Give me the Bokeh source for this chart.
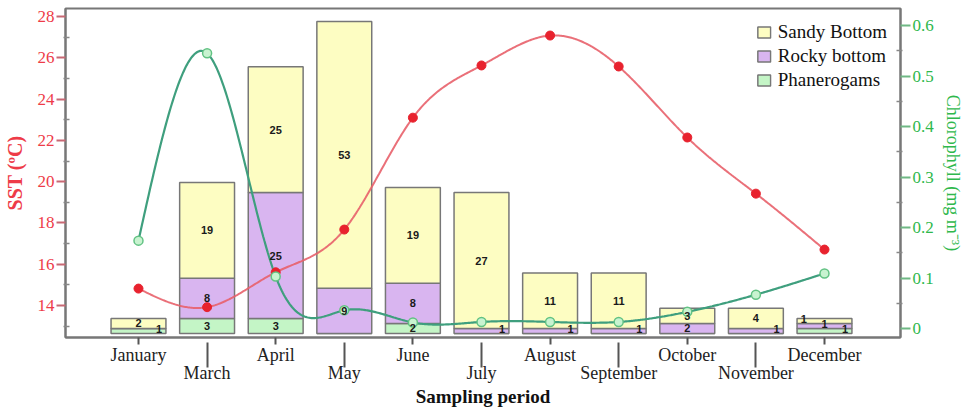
import numpy as np
from bokeh.plotting import figure
from bokeh.models import Range1d, LinearAxis, FixedTicker, ColumnDataSource, Legend, LegendItem
from bokeh.core.properties import value
from bokeh.embed import file_html
from bokeh.resources import INLINE

# ---------------- data ----------------
months = ["January", "March", "April", "May", "June", "July", "August",
          "September", "October", "November", "December"]
sandy = [2, 19, 25, 53, 19, 27, 11, 11, 3, 4, 1]
rocky = [0, 8, 25, 9, 8, 1, 1, 1, 2, 1, 1]
phan = [1, 3, 3, 0, 2, 0, 0, 0, 0, 0, 1]
sst = [14.82, 13.92, 15.61, 17.68, 23.10, 25.63, 27.08, 25.58, 22.14, 19.42, 16.71]
chl = [0.174, 0.545, 0.103, 0.036, 0.012, 0.013, 0.013, 0.013, 0.033, 0.067, 0.109]
sst_ticks = [14, 16, 18, 20, 22, 24, 26, 28]
sst_minor = [13, 15, 17, 19, 21, 23, 25, 27]
chl_ticks = [0, 0.1, 0.2, 0.3, 0.4, 0.5, 0.6]
chl_minor = [0.05, 0.15, 0.25, 0.35, 0.45, 0.55]

SERIF = "Liberation Serif"
RED_TXT = "#ee3b48"
GREEN_TXT = "#2fb84c"

xs = list(range(len(months)))


def natural_spline(x, y, n=600):
    x = np.asarray(x, float)
    y = np.asarray(y, float)
    k = len(x)
    h = np.diff(x)
    A = np.zeros((k, k))
    b = np.zeros(k)
    A[0, 0] = A[-1, -1] = 1
    for i in range(1, k - 1):
        A[i, i - 1] = h[i - 1]
        A[i, i] = 2 * (h[i - 1] + h[i])
        A[i, i + 1] = h[i]
        b[i] = 3 * ((y[i + 1] - y[i]) / h[i] - (y[i] - y[i - 1]) / h[i - 1])
    c = np.linalg.solve(A, b)
    bb = (y[1:] - y[:-1]) / h - h * (2 * c[:-1] + c[1:]) / 3
    d = (c[1:] - c[:-1]) / (3 * h)
    xx = np.linspace(x[0], x[-1], n)
    idx = np.clip(np.searchsorted(x, xx, side="right") - 1, 0, k - 2)
    dx = xx - x[idx]
    yy = y[idx] + bb[idx] * dx + c[idx] * dx ** 2 + d[idx] * dx ** 3
    return xx, yy


p = figure(frame_width=835, frame_height=329,
           x_range=Range1d(-1.064, 11.108), y_range=Range1d(12.45, 28.39),
           x_axis_location=None, y_axis_location="left",
           output_backend="svg", toolbar_location=None,
           min_border_left=60, min_border_top=8, min_border_right=5, min_border_bottom=0,
           background_fill_color="white", border_fill_color="white")
p.extra_y_ranges = {"counts": Range1d(-0.795, 64.59), "chl": Range1d(-0.0178, 0.6337)}
p.xgrid.visible = False
p.ygrid.visible = False
p.outline_line_color = "#777777"
p.outline_line_width = 2

# left axis
ya = p.yaxis[0]
ya.ticker = FixedTicker(ticks=sst_ticks, minor_ticks=sst_minor)
ya.axis_label = "SST (ºC)"
ya.axis_label_text_font = SERIF
ya.axis_label_text_font_style = "bold"
ya.axis_label_text_font_size = "20px"
ya.axis_label_text_color = RED_TXT
ya.axis_label_standoff = 9
ya.major_label_text_font = SERIF
ya.major_label_text_font_size = "17px"
ya.major_label_text_color = RED_TXT
ya.major_label_standoff = 2
ya.axis_line_color = "#777777"
ya.axis_line_width = 2
ya.major_tick_out = 9
ya.major_tick_in = 0
ya.major_tick_line_color = "#c86874"
ya.major_tick_line_width = 2
ya.minor_tick_out = 2
ya.minor_tick_in = 4
ya.minor_tick_line_color = "#888888"
ya.minor_tick_line_width = 1.5

# right axis
ra = LinearAxis(y_range_name="chl",
                ticker=FixedTicker(ticks=chl_ticks, minor_ticks=chl_minor),
                major_label_overrides={t: f"{t:g}" for t in chl_ticks},
                axis_label="Chlorophyll (mg m⁻³)",
                axis_label_text_font=SERIF, axis_label_text_font_size="18px",
                axis_label_text_font_style="normal",
                axis_label_text_color=GREEN_TXT, axis_label_standoff=6,
                major_label_text_font=SERIF, major_label_text_font_size="17px",
                major_label_text_color=GREEN_TXT, major_label_standoff=2,
                axis_line_color="#777777", axis_line_width=2,
                major_tick_out=10, major_tick_in=0,
                major_tick_line_color="#6fb884", major_tick_line_width=2,
                minor_tick_out=2, minor_tick_in=4,
                minor_tick_line_color="#888888", minor_tick_line_width=1.5)
p.add_layout(ra, "right")

# bottom axes (staggered month labels)
even = [i for i in xs if i % 2 == 0]
odd = [i for i in xs if i % 2 == 1]
common = dict(major_label_text_font=SERIF, major_label_text_font_size="18px",
              major_label_text_color="#222222",
              major_tick_line_color="#555555", major_tick_line_width=2,
              minor_tick_out=0, minor_tick_in=0)
ax1 = LinearAxis(ticker=FixedTicker(ticks=even),
                 major_label_overrides={i: months[i] for i in even},
                 major_tick_out=7, major_tick_in=0, major_label_standoff=0,
                 axis_line_color="#777777", axis_line_width=2, **common)
ax2 = LinearAxis(ticker=FixedTicker(ticks=odd),
                 major_label_overrides={i: months[i] for i in odd},
                 major_tick_out=0, major_tick_in=25, major_label_standoff=-5,
                 axis_line_alpha=0,
                 axis_label="Sampling period", axis_label_text_font=SERIF,
                 axis_label_text_font_style="bold", axis_label_text_font_size="19px",
                 axis_label_text_color="#111111", axis_label_standoff=0, **common)
p.add_layout(ax1, "below")
p.add_layout(ax2, "below")

# stacked bars
src = ColumnDataSource(dict(x=xs, phan=phan, rocky=rocky, sandy=sandy))
bars = p.vbar_stack(["phan", "rocky", "sandy"], x="x", width=0.8, source=src,
                    y_range_name="counts",
                    fill_color=["#c4f5c6", "#d9b5f0", "#fdfdc2"],
                    line_color="#777777", line_width=1.5)

# lines
sx, sy = natural_spline(xs, sst)
p.line(sx, sy, line_color="#e8606a", line_width=2, line_alpha=0.9)
cx, cy = natural_spline(xs, chl)
p.line(cx, cy, line_color="#3f9f7e", line_width=2.2, y_range_name="chl")
p.scatter(xs, sst, size=9, fill_color="#e8222e", line_color="#e8222e")
p.scatter(xs, chl, size=9, fill_color="#c8f3d0", line_color="#62c283", line_width=1.5,
          y_range_name="chl")

# bar labels
lx, ly, lt = [], [], []
for i in xs:
    segs = [phan[i], rocky[i], sandy[i]]
    ones = [k for k in range(3) if segs[k] == 1]
    cum = 0
    for k, v in enumerate(segs):
        if v >= 2:
            lx.append(i)
            ly.append(cum + v / 2)
            lt.append(str(v))
        elif v == 1:
            if len(ones) > 1:
                order = sorted(ones, reverse=True).index(k)
                off = [-0.3, 0.0, 0.3][order]
            else:
                off = 0.3
            lx.append(i + off)
            ly.append(cum + 0.9)
            lt.append(str(v))
        cum += v
p.text(lx, ly, text=lt, y_range_name="counts", text_align="center",
       text_baseline="middle", text_font=value("Liberation Sans"),
       text_font_style="bold", text_font_size="11px", text_color="#1a1a1a")

legend = Legend(items=[LegendItem(label="Sandy Bottom", renderers=[bars[2]]),
                       LegendItem(label="Rocky bottom", renderers=[bars[1]]),
                       LegendItem(label="Phanerogams", renderers=[bars[0]])],
                location="top_right", label_text_font=SERIF, label_text_font_size="19px",
                label_text_color="#111111",
                glyph_width=16, glyph_height=14, label_height=20, spacing=2,
                padding=5, margin=8, label_standoff=6,
                border_line_alpha=0, background_fill_color="white", background_fill_alpha=1)
p.add_layout(legend)

open("out.html", "w").write(file_html(p, INLINE))
